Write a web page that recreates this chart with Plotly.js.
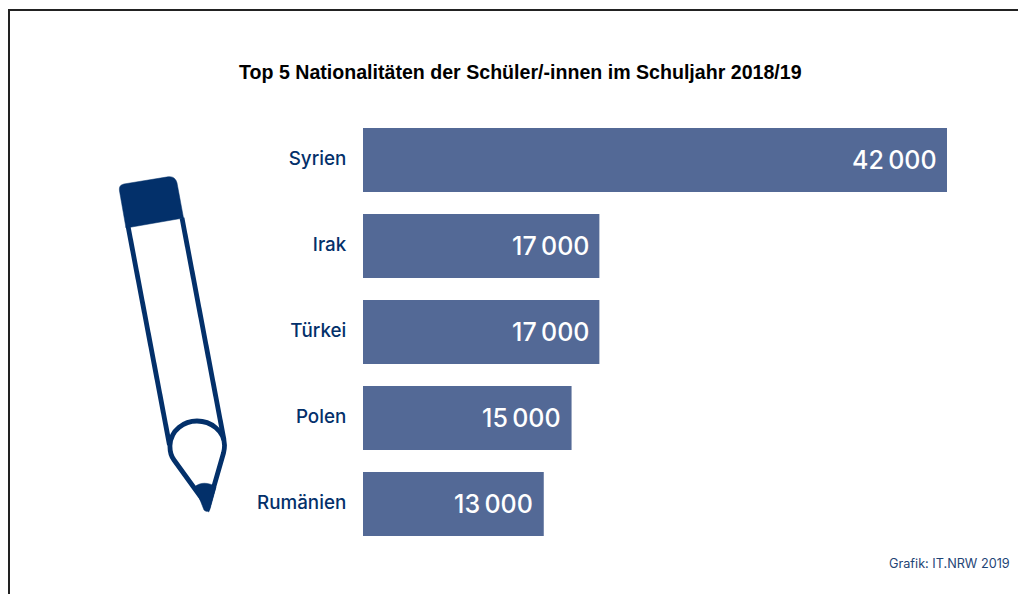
<!DOCTYPE html>
<html><head><meta charset="utf-8">
<script src="https://cdn.plot.ly/plotly-3.0.1.min.js"></script>
<style>html,body{margin:0;padding:0;background:#fff;overflow:hidden}</style>
</head><body><div id="chart" style="width:1018px;height:594px"></div>
<script>
const categories = ["Syrien", "Irak", "Türkei", "Polen", "Rumänien"];
const values = [42000, 17000, 17000, 15000, 13000];
const chartTitle = "Top 5 Nationalitäten der Schüler/-innen im Schuljahr 2018/19";
const sourceNote = "Grafik: IT.NRW 2019";

const W = 1018, H = 594, L = 363, R = 947, T = 117, B = 547;
const NAVY = "#03306a", BAR = "#536996";
const px = x => (x - L) / (R - L);
const py = y => (B - y) / (B - T);
function path(cmds) {
  return cmds.map(c => c[0] + (c.length > 1 ? " " + c.slice(1).map((v, i) => (i % 2 ? py(v) : px(v)).toFixed(5)).join(" ") : "")).join(" ");
}
function pageLine(d, w) { return {type:"path", xref:"paper", yref:"paper", path:d, line:{color:NAVY, width:w}, layer:"above"}; }
function pageFill(d) { return {type:"path", xref:"paper", yref:"paper", path:d, fillcolor:NAVY, line:{color:NAVY, width:0.5}, layer:"above"}; }

const shapes = [
  {type:"path", xref:"paper", yref:"paper", path:path([["M",9,594],["L",9,10],["L",1018,10]]), line:{color:"#222222", width:2}, layer:"above"},
  pageFill(path([["M",119.5,191],["C",119,187,120,185,124,184],["L",168,176.8],["C",173,176,176,179,177,183],["L",183.5,218],["L",126,228],["Z"]])),
  pageLine(path([["M",128,226],["L",169.5,445]]), 4.8),
  pageLine(path([["M",182,218],["L",224,440]]), 4.8),
  pageLine(path([["M",170,445],["C",171,430,184,421,197,421],["C",211,421,224,431,224.5,445],["C",224.6,449,224,451,223.5,453],["L",208,507],["L",174,460],["C",171,456,169.7,451,170,445],["Z"]]), 4.8),
  pageFill(path([["M",195,487],["C",199,482,209,482,216,487],["L",210,509],["C",209,512,206,512,204,510],["Z"]]))
];

const annotations = values.map((v, i) => ({
  x: v, y: categories[i], xref:"x", yref:"y", xanchor:"right", yanchor:"middle", xshift:-8.5, yshift:0, showarrow:false,
  text: String(Math.floor(v / 1000)) + "\u2009" + String(v % 1000).padStart(3, "0"),
  font:{family:"Inter, sans-serif", size:25, weight:500, color:"#ffffff"}
}));
annotations.push({
  xref:"paper", yref:"paper", x:px(1011.5), y:py(563), xanchor:"right", yanchor:"middle", showarrow:false,
  text:sourceNote, font:{family:"Inter, sans-serif", size:12.7, color:"#1f4576"}
});
annotations.push({
  xref:"paper", yref:"paper", x:px(520), y:py(72), xanchor:"center", yanchor:"middle", showarrow:false,
  text:"<b>"+chartTitle+"</b>", font:{family:"Liberation Sans, Arial, sans-serif", size:19.6, color:"#000000"}
});

Plotly.newPlot("chart", [{
  type:"bar", orientation:"h", x:values, y:categories, marker:{color:BAR, line:{width:0}}, hoverinfo:"x+y"
}], {
  width:W, height:H, autosize:false, showlegend:false,
  paper_bgcolor:"#ffffff", plot_bgcolor:"#ffffff",
  margin:{l:L, r:W-R, t:T, b:H-B, pad:0},
  bargap:22/86,
  xaxis:{range:[0,42000], visible:false, fixedrange:true},
  yaxis:{type:"category", categoryorder:"array", categoryarray:categories, autorange:"reversed",
    showgrid:false, zeroline:false, showline:false, ticks:"outside", ticklen:12, tickcolor:"rgba(0,0,0,0)",
    tickfont:{family:"Inter, sans-serif", size:18.8, weight:500, color:NAVY}, ticklabelshift:2, fixedrange:true},
  shapes, annotations
}, {displayModeBar:false});
</script></body></html>
